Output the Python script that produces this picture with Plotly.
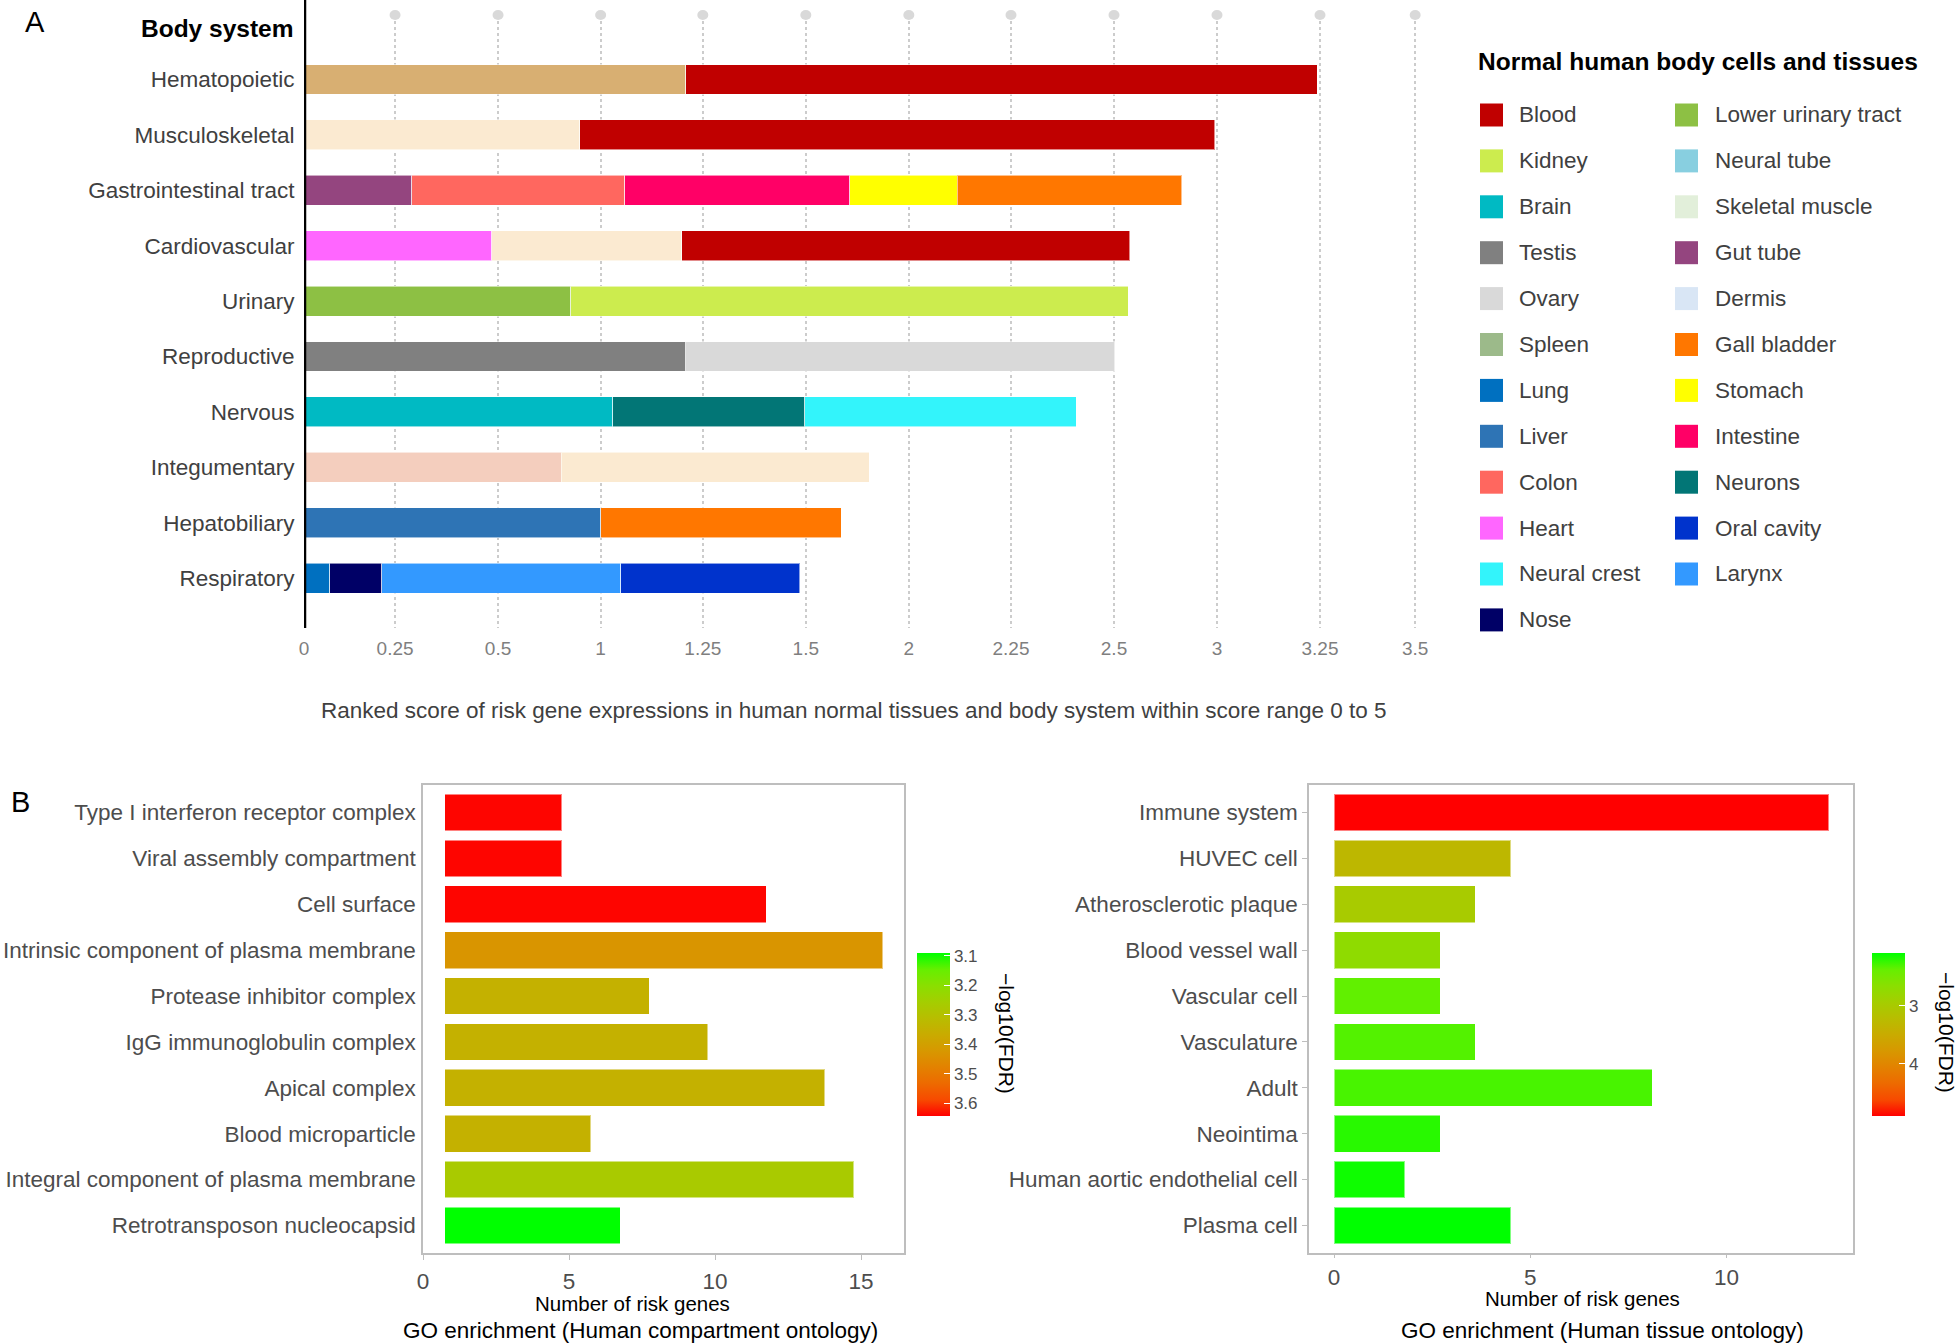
import plotly.graph_objects as go

W, H = 1960, 1344
FONT = "Liberation Sans, Arial, sans-serif"

## PANEL A DATA (ranked score, stacked by tissue)
body_systems = ["Hematopoietic", "Musculoskeletal", "Gastrointestinal tract", "Cardiovascular",
                "Urinary", "Reproductive", "Nervous", "Integumentary", "Hepatobiliary", "Respiratory"]
segment_tissues = [
    ["unlisted tan", "Blood"],
    ["unlisted cream", "Blood"],
    ["Gut tube", "Colon", "Intestine", "Stomach", "Gall bladder"],
    ["Heart", "unlisted cream", "Blood"],
    ["Lower urinary tract", "Kidney"],
    ["Testis", "Ovary"],
    ["Brain", "Neurons", "Neural crest"],
    ["unlisted peach", "unlisted cream"],
    ["Liver", "Gall bladder"],
    ["Lung", "Nose", "Larynx", "Oral cavity"],
]
segment_scores = [
    [0.927, 1.532],
    [0.669, 1.542],
    [0.262, 0.517, 0.546, 0.260, 0.546],
    [0.456, 0.461, 1.087],
    [0.647, 1.354],
    [0.927, 1.041],
    [0.749, 0.467, 0.658],
    [0.624, 0.748],
    [0.720, 0.584],
    [0.063, 0.126, 0.580, 0.434],
]
score_tick_text = ["0", "0.25", "0.5", "1", "1.25", "1.5", "2", "2.25", "2.5", "3", "3.25", "3.5"]
score_tick_pos = [0, 0.221, 0.471, 0.720, 0.968, 1.218, 1.468, 1.716, 1.966, 2.216, 2.466, 2.697]

legend_col1 = ["Blood", "Kidney", "Brain", "Testis", "Ovary", "Spleen", "Lung", "Liver",
               "Colon", "Heart", "Neural crest", "Nose"]
legend_col2 = ["Lower urinary tract", "Neural tube", "Skeletal muscle", "Gut tube", "Dermis",
               "Gall bladder", "Stomach", "Intestine", "Neurons", "Oral cavity", "Larynx"]

tissue_colors = {
    "Blood": "#C00000", "Kidney": "#CCEC4E", "Brain": "#00BAC3", "Testis": "#808080",
    "Ovary": "#D9D9D9", "Spleen": "#9CBA8A", "Lung": "#0070C0", "Liver": "#2E74B5",
    "Colon": "#FF675F", "Heart": "#FF66FF", "Neural crest": "#33F4FB", "Nose": "#000066",
    "Lower urinary tract": "#8DC044", "Neural tube": "#88CFE0", "Skeletal muscle": "#E2EFDA",
    "Gut tube": "#94457F", "Dermis": "#D9E6F5", "Gall bladder": "#FF7700", "Stomach": "#FFFF00",
    "Intestine": "#FF0066", "Neurons": "#027676", "Oral cavity": "#0033CC", "Larynx": "#3399FF",
    "unlisted tan": "#D8AF72", "unlisted cream": "#FBEAD1", "unlisted peach": "#F4CEBE",
}

## PANEL B DATA (GO enrichment)
compartment_terms = ["Type I interferon receptor complex", "Viral assembly compartment", "Cell surface",
                     "Intrinsic component of plasma membrane", "Protease inhibitor complex",
                     "IgG immunoglobulin complex", "Apical complex", "Blood microparticle",
                     "Integral component of plasma membrane", "Retrotransposon nucleocapsid"]
compartment_genes = [4, 4, 11, 15, 7, 9, 13, 5, 14, 6]
compartment_fdr = [3.64, 3.64, 3.64, 3.43, 3.35, 3.35, 3.35, 3.35, 3.27, 3.09]

tissue_terms = ["Immune system", "HUVEC cell", "Atherosclerotic plaque", "Blood vessel wall",
                "Vascular cell", "Vasculature", "Adult", "Neointima",
                "Human aortic endothelial cell", "Plasma cell"]
tissue_genes = [12.6, 4.5, 3.6, 2.7, 2.7, 3.6, 8.1, 2.7, 1.8, 4.5]
tissue_fdr = [4.9, 3.30, 2.99, 2.71, 2.36, 2.32, 2.29, 2.20, 2.13, 2.09]


## ggplot-like green->red gradient (interpolated in Lab space)
def _lin(c):
    c = c / 255
    return c / 12.92 if c <= 0.04045 else ((c + 0.055) / 1.055) ** 2.4

def _gam(c):
    c = max(0.0, min(1.0, c))
    c = 12.92 * c if c <= 0.0031308 else 1.055 * c ** (1 / 2.4) - 0.055
    return int(round(c * 255))

def hex_to_lab(h):
    r, g, b = (_lin(int(h[i:i + 2], 16)) for i in (1, 3, 5))
    X = (0.4124 * r + 0.3576 * g + 0.1805 * b) / 0.95047
    Y = 0.2126 * r + 0.7152 * g + 0.0722 * b
    Z = (0.0193 * r + 0.1192 * g + 0.9505 * b) / 1.08883
    f = lambda t: t ** (1 / 3) if t > 0.008856 else 7.787 * t + 16 / 116
    fx, fy, fz = f(X), f(Y), f(Z)
    return 116 * fy - 16, 500 * (fx - fy), 200 * (fy - fz)

def lab_to_hex(L, a, b):
    fy = (L + 16) / 116
    fx, fz = fy + a / 500, fy - b / 200
    finv = lambda t: t ** 3 if t ** 3 > 0.008856 else (t - 16 / 116) / 7.787
    X, Y, Z = finv(fx) * 0.95047, finv(fy), finv(fz) * 1.08883
    r = 3.2406 * X - 1.5372 * Y - 0.4986 * Z
    g = -0.9689 * X + 1.8758 * Y + 0.0415 * Z
    bl = 0.0557 * X - 0.2040 * Y + 1.0570 * Z
    return "#%02X%02X%02X" % (_gam(r), _gam(g), _gam(bl))

def lab_scale(c0, c1, n=11):
    l0, l1 = hex_to_lab(c0), hex_to_lab(c1)
    return [[i / (n - 1), lab_to_hex(*[p + (q - p) * i / (n - 1) for p, q in zip(l0, l1)])]
            for i in range(n)]

# colorbars run 3.1 (top, green) -> 3.6 (bottom, red), so colour by -value
fdr_scale = lab_scale("#FF0000", "#00FF00")


def px_x(px):
    return px / W

def px_y(py):
    return 1 - py / H


fig = go.Figure()

## PANEL A: stacked bars
for system, tissues, scores in zip(body_systems, segment_tissues, segment_scores):
    for tissue, score in zip(tissues, scores):
        fig.add_trace(go.Bar(
            x=[score], y=[system], orientation="h", width=0.54,
            marker=dict(color=tissue_colors[tissue], line=dict(color="rgba(255,255,255,0.55)", width=1)),
            name=tissue, showlegend=False, xaxis="x", yaxis="y"))

## PANEL B: GO enrichment bars
cbar_common = dict(thickness=33, thicknessmode="pixels", len=163 / H, lenmode="fraction",
                   y=px_y(953), yanchor="top", xanchor="left", xpad=0, ypad=0,
                   outlinewidth=0, ticks="inside", ticklen=6, tickcolor="white", tickwidth=1.2,
                   tickfont=dict(family=FONT, size=17, color="#4D4D4D"))

fig.add_trace(go.Bar(
    x=compartment_genes, y=compartment_terms, orientation="h", base=0.75, width=0.8,
    marker=dict(color=[-v for v in compartment_fdr], colorscale=fdr_scale, cmin=-3.644, cmax=-3.09,
                line=dict(color="rgba(255,255,255,0.5)", width=1),
                colorbar=dict(x=px_x(917), tickvals=[-3.1, -3.2, -3.3, -3.4, -3.5, -3.6],
                              ticktext=["3.1", "3.2", "3.3", "3.4", "3.5", "3.6"], **cbar_common)),
    showlegend=False, xaxis="x2", yaxis="y2"))

fig.add_trace(go.Bar(
    x=tissue_genes, y=tissue_terms, orientation="h", width=0.8,
    marker=dict(color=[-v for v in tissue_fdr], colorscale=fdr_scale, cmin=-4.9, cmax=-2.09,
                line=dict(color="rgba(255,255,255,0.5)", width=1),
                colorbar=dict(x=px_x(1872), tickvals=[-3, -4], ticktext=["3", "4"], **cbar_common)),
    showlegend=False, xaxis="x3", yaxis="y3"))

## SHAPES: black axis line, grid caps, legend swatches
shapes = [dict(type="line", xref="x", yref="paper", x0=0, x1=0, y0=px_y(628), y1=1,
               line=dict(color="black", width=4.5))]
for g in score_tick_pos[1:]:
    shapes.append(dict(type="circle", xref="x", yref="paper", xsizemode="pixel", ysizemode="pixel",
                       xanchor=g, yanchor=px_y(15), x0=-5.5, x1=5.5, y0=-5, y1=5,
                       fillcolor="#D9D9D9", line=dict(width=0)))

annotations = []
row_y0, row_step = 115, 45.9
for col, (sw_x, txt_x) in zip([legend_col1, legend_col2], [(1480, 1517), (1675, 1713)]):
    for i, name in enumerate(col):
        cy = row_y0 + i * row_step
        shapes.append(dict(type="rect", xref="paper", yref="paper",
                           x0=px_x(sw_x), x1=px_x(sw_x + 23), y0=px_y(cy + 11.5), y1=px_y(cy - 11.5),
                           fillcolor=tissue_colors[name], line=dict(width=0)))
        annotations.append(dict(text=name, xref="paper", yref="paper", x=px_x(txt_x), y=px_y(cy),
                                xanchor="left", yanchor="middle", showarrow=False,
                                font=dict(family=FONT, size=22.5, color="#404040")))


def note(text, x, y, size, color="black", xanchor="center", bold=False, angle=0):
    annotations.append(dict(text=f"<b>{text}</b>" if bold else text, xref="paper", yref="paper",
                            x=px_x(x), y=px_y(y), xanchor=xanchor, yanchor="middle", showarrow=False,
                            textangle=angle, font=dict(family=FONT, size=size, color=color)))


note("A", 23, 22, 29, xanchor="left")
note("B", 9, 802, 29, xanchor="left")
note("Body system", 296, 29, 24.5, bold=True, xanchor="right")
note("Normal human body cells and tissues", 1476, 61, 24.5, bold=True, xanchor="left")
note("Ranked score of risk gene expressions in human normal tissues and body system within score range 0 to 5",
     854, 710, 22.5, color="#404040")
note("Number of risk genes", 632, 1303, 20.5)
note("Number of risk genes", 1582, 1298, 20.5)
note("GO enrichment (Human compartment ontology)", 640, 1330, 22.5)
note("GO enrichment (Human tissue ontology)", 1602, 1330, 22.5)
note("\u2212log10(FDR)", 1007, 1033, 21, angle=90)
note("\u2212log10(FDR)", 1947, 1032, 21, angle=90)

## LAYOUT
frame = dict(showline=True, mirror=True, linecolor="#BEBEBE", linewidth=1.5, showgrid=False,
             zeroline=False, automargin=False)
cat_font = dict(family=FONT, size=22.5, color="#4D4D4D")

fig.update_layout(
    width=W, height=H, margin=dict(l=0, r=0, t=0, b=0),
    paper_bgcolor="white", plot_bgcolor="white", barmode="stack",
    font=dict(family=FONT), shapes=shapes, annotations=annotations,
    xaxis=dict(domain=[px_x(304), px_x(304 + 2.8 * 412)], range=[0, 2.8], anchor="y",
               tickvals=score_tick_pos, ticktext=score_tick_text,
               showgrid=True, gridcolor="#CCCCCC", griddash="dot", gridwidth=1.6,
               zeroline=False, showline=False, automargin=False,
               ticks="outside", ticklen=3, tickcolor="rgba(0,0,0,0)",
               tickfont=dict(family=FONT, size=19, color="#7F7F7F")),
    yaxis=dict(domain=[px_y(628), px_y(15)], anchor="x", type="category",
               categoryorder="array", categoryarray=body_systems, range=[9.9, -1.164],
               showgrid=False, zeroline=False, showline=False, automargin=False,
               ticks="outside", ticklen=4, tickcolor="rgba(0,0,0,0)",
               tickfont=dict(family=FONT, size=22.5, color="#404040")),
    xaxis2=dict(domain=[px_x(423), px_x(904)], range=[0, 16.47], anchor="y2",
                tickvals=[0, 5, 10, 15], ticks="outside", ticklen=5, tickcolor="#BEBEBE", tickwidth=1.2,
                ticklabelstandoff=2, tickfont=cat_font, **frame),
    yaxis2=dict(domain=[px_y(1253), px_y(785)], anchor="x2", type="category",
                categoryorder="array", categoryarray=compartment_terms, range=[9.6, -0.6],
                ticks="outside", ticklen=1, tickcolor="rgba(0,0,0,0)", tickfont=cat_font, **frame),
    xaxis3=dict(domain=[px_x(1309), px_x(1853)], range=[-0.637, 13.22], anchor="y3",
                tickvals=[0, 5, 10], ticks="outside", ticklen=3, tickcolor="#BEBEBE", tickwidth=1.2,
                ticklabelstandoff=0, tickfont=cat_font, **frame),
    yaxis3=dict(domain=[px_y(1253), px_y(785)], anchor="x3", type="category",
                categoryorder="array", categoryarray=tissue_terms, range=[9.6, -0.6],
                ticks="outside", ticklen=5, tickcolor="#BEBEBE", tickwidth=1.2, tickfont=cat_font, **frame),
)

# the page's default body margin would shift the figure by 8px
fig.write_html("out.html", config={"displayModeBar": False},
               post_script="document.body.style.margin='0';")
